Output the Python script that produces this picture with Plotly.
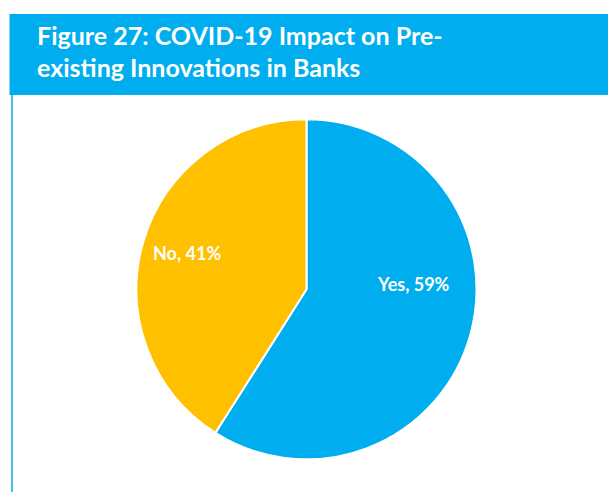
import plotly.graph_objects as go

# Survey answers and their shares (%)
labels = ["Yes", "No"]
values = [59, 41]
colors = ["#00AEEF", "#FFC000"]
title_lines = ["Figure 27: COVID-19 Impact on Pre-", "existing Innovations in Banks"]

W, H = 608, 492
BLUE = "#00AEEF"


def px(x):
    return x / W


def py(y):
    return 1 - y / H


fig = go.Figure(go.Pie(
    labels=labels, values=values, sort=False, direction="clockwise", rotation=0,
    marker=dict(colors=colors, line=dict(color="white", width=2)),
    textinfo="none", hoverinfo="label+percent",
    domain=dict(x=[px(136.5), px(476.5)], y=[py(459.3), py(119.3)]),
    showlegend=False,
))

# header band and the thin frame line down the left side
fig.add_shape(type="rect", xref="paper", yref="paper",
              x0=px(9.5), x1=1, y0=py(95), y1=py(14),
              fillcolor=BLUE, line=dict(width=0), layer="below")
fig.add_shape(type="line", xref="paper", yref="paper",
              x0=px(12), x1=px(12), y0=py(95), y1=0,
              line=dict(color=BLUE, width=1.5))

for i, line in enumerate(title_lines):
    fig.add_annotation(x=px(35), y=py(35.5 + i * 31.6), xref="paper", yref="paper",
                       xanchor="left", yanchor="middle", showarrow=False,
                       text=f"<b>{line}</b>",
                       font=dict(family="Lato", size=25, color="white"))

# slice labels
label_pos = {"Yes": (413.7, 284), "No": (186.5, 253)}
for lab, val in zip(labels, values):
    x, y = label_pos[lab]
    fig.add_annotation(x=px(x), y=py(y), xref="paper", yref="paper",
                       xanchor="center", yanchor="middle", showarrow=False,
                       text=f"<b>{lab}, {val}%</b>",
                       font=dict(family="Lato", size=18, color="white"))

fig.update_layout(width=W, height=H, margin=dict(l=0, r=0, t=0, b=0),
                  paper_bgcolor="white", plot_bgcolor="white")
fig.write_html("out.html")
